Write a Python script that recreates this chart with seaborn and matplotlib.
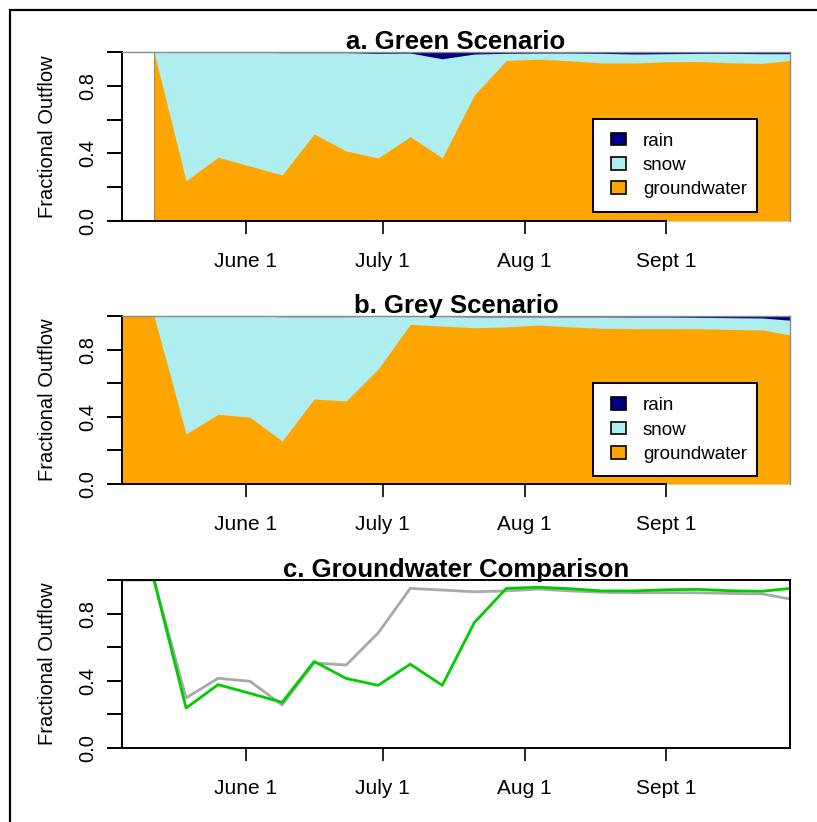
import numpy as np
import pandas as pd
import matplotlib
matplotlib.use("Agg")
import matplotlib.pyplot as plt
import matplotlib.dates as mdates
from matplotlib.patches import Patch, Rectangle
import seaborn as sns

# ---- weekly sample dates -------------------------------------------------
grey_dates = pd.to_datetime([
    "2013-05-05", "2013-05-12", "2013-05-19", "2013-05-26", "2013-06-02",
    "2013-06-09", "2013-06-16", "2013-06-23", "2013-06-30", "2013-07-07",
    "2013-07-14", "2013-07-21", "2013-07-28", "2013-08-04", "2013-08-11",
    "2013-08-18", "2013-08-25", "2013-09-01", "2013-09-08", "2013-09-15",
    "2013-09-22", "2013-09-28"])
green_dates = grey_dates[1:]

# ---- green scenario fractions -------------------------------------------
green_gw = [1.000, 0.238, 0.377, 0.325, 0.272, 0.515, 0.414, 0.373, 0.499,
            0.373, 0.746, 0.950, 0.957, 0.948, 0.935, 0.935, 0.942, 0.944,
            0.936, 0.933, 0.950]
green_snow = [0.000, 0.762, 0.623, 0.675, 0.724, 0.481, 0.582, 0.619, 0.495,
              0.587, 0.242, 0.042, 0.037, 0.046, 0.057, 0.053, 0.048, 0.048,
              0.056, 0.057, 0.040]
green_rain = [0.000, 0.000, 0.000, 0.000, 0.004, 0.004, 0.004, 0.008, 0.006,
              0.040, 0.012, 0.008, 0.006, 0.006, 0.008, 0.012, 0.010, 0.008,
              0.008, 0.010, 0.010]

# ---- grey scenario fractions --------------------------------------------
grey_gw = [1.000, 1.000, 0.298, 0.415, 0.397, 0.256, 0.506, 0.494, 0.685,
           0.950, 0.940, 0.930, 0.935, 0.946, 0.935, 0.927, 0.925, 0.925,
           0.924, 0.920, 0.917, 0.887]
grey_snow = [0.000, 0.000, 0.702, 0.585, 0.603, 0.740, 0.490, 0.502, 0.313,
             0.048, 0.057, 0.065, 0.060, 0.049, 0.060, 0.068, 0.069, 0.069,
             0.068, 0.070, 0.071, 0.088]
grey_rain = [0.000, 0.000, 0.000, 0.000, 0.000, 0.004, 0.004, 0.004, 0.002,
             0.002, 0.003, 0.005, 0.005, 0.005, 0.005, 0.005, 0.006, 0.006,
             0.008, 0.010, 0.012, 0.025]

month_ticks = pd.to_datetime(["2013-06-01", "2013-07-01", "2013-08-01", "2013-09-01"])
month_labels = ["June 1", "July 1", "Aug 1", "Sept 1"]
y_ticks = [0.0, 0.2, 0.4, 0.6, 0.8, 1.0]
y_labels = ["0.0", "", "0.4", "", "0.8", ""]
legend_labels = ["rain", "snow", "groundwater"]

C_RAIN = "#000080"
C_SNOW = "#AFEEEE"
C_GW = "#FFA500"
C_GREEN = "#00CD00"
C_GREY = "#A9A9A9"

sns.set_theme(style="white")
plt.rcParams["font.family"] = ["Liberation Sans", "DejaVu Sans"]
for key in ["text.color", "axes.labelcolor", "xtick.color", "ytick.color"]:
    plt.rcParams[key] = "black"

W, H = 817, 822
fig = plt.figure(figsize=(W / 100, H / 100), dpi=100)


def px_axes(left, top, right, bottom):
    return fig.add_axes([left / W, 1 - bottom / H, (right - left) / W, (bottom - top) / H])


ax_a = px_axes(122, 52, 790, 221)
ax_b = px_axes(122, 316, 790, 484)
ax_c = px_axes(122, 580, 790, 748)

x_lo = mdates.date2num(grey_dates[0])


def style_axis(ax, title, boxed):
    ax.set_facecolor("white")
    ax.set_xlim(grey_dates[0], grey_dates[-1])
    ax.set_ylim(0, 1)
    ax.set_yticks(y_ticks)
    ax.set_yticklabels(y_labels, rotation=90, va="center", fontsize=14.5)
    ax.set_xticks(month_ticks)
    ax.set_xticklabels(month_labels, fontsize=15)
    ax.tick_params(axis="y", length=11, width=1.4, color="black", pad=7, left=True)
    ax.tick_params(axis="x", length=9, width=1.2, color="black", pad=13, bottom=True)
    ax.set_ylabel("Fractional Outflow", fontsize=14.5)
    ax.yaxis.set_label_coords(-0.097, 0.5)
    ax.set_xlabel("")
    ax.set_title(title, fontsize=18.5, fontweight="bold", pad=2)
    for side in ["left", "bottom", "top", "right"]:
        ax.spines[side].set_visible(True)
        ax.spines[side].set_color("black")
        ax.spines[side].set_linewidth(1.4)
    if not boxed:
        ax.spines["bottom"].set_bounds(x_lo, mdates.date2num(month_ticks[-1]))
        ax.spines["top"].set_color("#8a8a8a")
        ax.spines["right"].set_color("#8a8a8a")
        ax.spines["top"].set_linewidth(1.0)
        ax.spines["right"].set_linewidth(1.0)
    ax.grid(False)


def stacked(ax, dates, gw, snow, rain, box_y, mid_row_y):
    gw = np.asarray(gw)
    snow = np.asarray(snow)
    rain = np.asarray(rain)
    ax.fill_between(dates, 0, gw + snow + rain, color=C_RAIN, lw=0, zorder=1)
    ax.fill_between(dates, 0, gw + snow, color=C_SNOW, lw=0, zorder=1.1)
    ax.fill_between(dates, 0, gw, color=C_GW, lw=0, zorder=1.2)
    # legend box
    ax.add_patch(Rectangle((0.705, box_y[0]), 0.246, box_y[1] - box_y[0],
                           transform=ax.transAxes, facecolor="white",
                           edgecolor="black", lw=1.4, zorder=4))
    handles = [Patch(facecolor=c, edgecolor="black", lw=1.2, label=l)
               for c, l in zip([C_RAIN, C_SNOW, C_GW], legend_labels)]
    leg = ax.legend(handles=handles, loc="center left", bbox_to_anchor=(0.732, mid_row_y),
                    borderaxespad=0, borderpad=0, frameon=False, fontsize=13.5,
                    handlelength=0.82, handleheight=0.68, handletextpad=0.88,
                    labelspacing=0.38)
    leg.set_zorder(5)


stacked(ax_a, green_dates, green_gw, green_snow, green_rain,
        box_y=(0.053, 0.604), mid_row_y=0.330)
style_axis(ax_a, "a. Green Scenario", boxed=False)

stacked(ax_b, grey_dates, grey_gw, grey_snow, grey_rain,
        box_y=(0.048, 0.601), mid_row_y=0.321)
style_axis(ax_b, "b. Grey Scenario", boxed=False)

grey_df = pd.DataFrame({"date": grey_dates, "fraction": grey_gw})
green_df = pd.DataFrame({"date": green_dates, "fraction": green_gw})
sns.lineplot(data=grey_df, x="date", y="fraction", ax=ax_c, color=C_GREY, lw=2.0)
sns.lineplot(data=green_df, x="date", y="fraction", ax=ax_c, color=C_GREEN, lw=2.0)
style_axis(ax_c, "c. Groundwater Comparison", boxed=True)

# outer frame around the figure
fig.add_artist(Rectangle((10 / W, -0.1), 1.2, 1 - 10 / H + 0.1, transform=fig.transFigure,
                         fill=False, ec="black", lw=1.6))

fig.savefig("out.png", dpi=100)
